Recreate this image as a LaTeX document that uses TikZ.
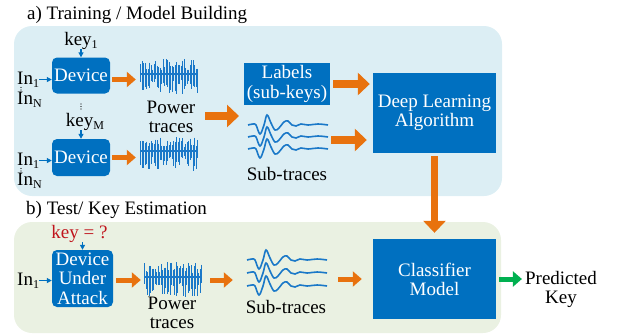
\documentclass[tikz,border=0pt]{standalone}
\usepackage{fontspec}
\setmainfont{Liberation Serif}
\usetikzlibrary{arrows.meta}
\definecolor{boxblue}{HTML}{0070C0}
\definecolor{waveblue}{HTML}{1A78C8}
\definecolor{topbg}{HTML}{DCEEF4}
\definecolor{botbg}{HTML}{EAF1E2}
\definecolor{org}{HTML}{E8720E}
\definecolor{grn}{HTML}{00B050}
\definecolor{keyred}{HTML}{C0141C}
\newcommand\mysub[1]{\raisebox{-3.5pt}{\fontsize{12}{12}\selectfont #1}}
\newcommand\ptrace[4]{% name, cx, cy, seed
  \node[inner sep=0pt, minimum width=58pt, minimum height=36pt] (#1) at (#2,#3+3) {};
  \pgfmathsetseed{#4}
  \begin{scope}[shift={(#2,#3)}]
    \draw[waveblue, line width=2pt] (-29,0) -- (29,0);
    \foreach \i in {0,...,38}{
      \pgfmathsetmacro\xx{-28.5+1.5*\i}
      \pgfmathsetmacro\up{4+11*rnd}
      \pgfmathsetmacro\dn{5+15*rnd}
      \draw[waveblue, line width=0.8pt] (\xx,-\up) -- (\xx,\dn);
    }
  \end{scope}}
\newcommand\strace[4]{%
  \node[inner sep=0pt, minimum width=80pt, minimum height=42pt] (#1) at (#2+40,#3+#4) {};
  \foreach \k in {0,1,2}{
    \draw[waveblue, line width=1.6pt, shift={(#2,#3+\k*#4)}] plot[smooth, tension=0.6] coordinates
      {(0,0) (5,-1) (8,0) (12,9) (16,0) (19,-10) (23,-2) (27,5) (31,3) (36,-3) (40,-4) (44,0) (48,1) (53,-1) (60,0) (70,-1) (80,0)};
  }}
\begin{document}
\begin{tikzpicture}[x=1pt, y=-1pt, font=\rmfamily\fontsize{19}{18}\selectfont,
  devbox/.style={fill=boxblue, rounded corners=5pt, text=white, align=center, inner sep=0pt},
  bluebox/.style={fill=boxblue, text=white, align=center, inner sep=0pt},
  lbl/.style={align=center, inner sep=0pt},
  karrow/.style={draw=boxblue, line width=1.2pt, -{Triangle[length=5pt,width=5pt]}},
  oarr/.style={draw=org, line width=5pt, -{Triangle[length=9pt,width=15pt]}},
  oarrbig/.style={draw=org, line width=7.5pt, -{Triangle[length=12pt,width=22pt]}},
  garr/.style={draw=grn, line width=5pt, -{Triangle[length=9pt,width=15pt]}},
  dots/.style={fill=black}]
\useasboundingbox (0,0) rectangle (618,335);
% panels
\fill[topbg, rounded corners=18pt] (14,26) rectangle (502,196);
\fill[botbg, rounded corners=18pt] (14,222) rectangle (501,333);
% titles
\node[anchor=base west, inner sep=0pt] (ta) at (27,19) {a) Training / Model Building};
\node[anchor=base west, inner sep=0pt] (tb) at (26,214) {b) Test/ Key Estimation};
% devices (training)
\node[devbox, minimum width=58pt, minimum height=36pt, font=\rmfamily\fontsize{19}{18}\selectfont] (dev1) at (81,75.5) {Device};
\node[devbox, minimum width=58pt, minimum height=37pt, font=\rmfamily\fontsize{19}{18}\selectfont] (dev2) at (81,157.5) {Device};
\node[anchor=base, inner sep=0pt] (k1) at (81,45) {key\mysub{1}};
\node[anchor=base, inner sep=0pt] (kM) at (85,126) {key\mysub{M}};
\draw[karrow] (dev1.north |- k1.south) -- (dev1.north);
\draw[karrow] (dev2.north |- kM.south) -- (dev2.north);
\node[anchor=base west, inner sep=0pt] (in1a) at (17,84) {In\mysub{1}};
\node[anchor=base west, inner sep=0pt] (inNa) at (17,104) {In\mysub{N}};
\node[anchor=base west, inner sep=0pt] (in1b) at (17,165) {In\mysub{1}};
\node[anchor=base west, inner sep=0pt] (inNb) at (17,185) {In\mysub{N}};
\draw[karrow] (in1a.east) -- (in1a.east -| dev1.west);
\draw[karrow] (in1b.east) -- (in1b.east -| dev2.west);
\foreach \yy in {87.5,90,92.5} \fill[dots] (21,\yy) circle (0.6pt);
\foreach \yy in {168.5,171,173.5} \fill[dots] (21,\yy) circle (0.6pt);
\foreach \yy in {104,106.5,109} \fill[dots] (81,\yy) circle (0.6pt);
% power traces (training)
\ptrace{pt1}{169}{74}{41}
\ptrace{pt2}{169}{151}{97}
\node[lbl, font=\rmfamily\fontsize{19}{19}\selectfont] (pw1) at (171,117) {Power\\traces};
\draw[oarr, shorten <=2pt, shorten >=4pt] ([yshift=-4pt]dev1.east) -- ([yshift=-4pt]dev1.east -| pt1.west);
\draw[oarr, shorten <=2pt, shorten >=4pt] (dev2.east) -- (dev2.east -| pt2.west);
\coordinate (bigS) at (205,116);
\coordinate (bigE) at (239,116);
\draw[oarrbig] (bigS) -- (bigE);
% labels and subtraces
\node[bluebox, minimum width=86pt, minimum height=42pt, font=\rmfamily\fontsize{19}{20}\selectfont] (lab) at (287,84) {Labels\\(sub-keys)};
\strace{st1}{248}{125}{12}
\node[anchor=base, inner sep=0pt] (sub1) at (287,180) {Sub-traces};
% deep learning
\node[bluebox, minimum width=123pt, minimum height=80pt, font=\rmfamily\fontsize{19}{19}\selectfont] (dl) at (434.5,113) {Deep Learning\\Algorithm};
\draw[oarrbig, shorten <=3pt, shorten >=3pt] (lab.east) -- (lab.east -| dl.west);
\draw[oarrbig, shorten <=3pt, shorten >=6pt] ([yshift=-3pt]st1.east) -- ([yshift=-3pt]st1.east -| dl.west);
% classifier
\node[bluebox, minimum width=123pt, minimum height=80pt, font=\rmfamily\fontsize{19}{19}\selectfont] (cls) at (434.5,279) {Classifier\\Model};
\draw[oarrbig, shorten <=3pt, shorten >=6pt] (dl.south) -- (cls.north);
% test
\node[devbox, minimum width=61pt, minimum height=57pt, font=\rmfamily\fontsize{19}{19.5}\selectfont] (dua) at (82.5,278.5) {Device\\Under\\Attack};
\node[anchor=base, inner sep=0pt, text=keyred] (kq) at (79.5,238) {key = ?};
\draw[karrow] (dua.north |- kq.south) -- (dua.north);
\node[anchor=base west, inner sep=0pt] (in1c) at (17,285) {In\mysub{1}};
\draw[karrow] (in1c.east) -- (in1c.east -| dua.west);
\ptrace{pt3}{173}{277}{7}
\node[lbl, font=\rmfamily\fontsize{19}{19}\selectfont] (pw3) at (172,313) {Power\\traces};
\strace{st2}{247}{260}{13}
\node[anchor=base, inner sep=0pt] (sub2) at (286,313) {Sub-traces};
\draw[oarr, shorten <=3pt, shorten >=3pt] (dua.east |- pt3.west) -- (pt3.west);
\draw[oarr, shorten <=8pt, shorten >=14pt] (pt3.east) -- (pt3.east -| st2.west);
\draw[oarr, shorten <=11pt, shorten >=11pt] (st2.east |- cls.west) -- (cls.west);
\node[lbl, font=\rmfamily\fontsize{19}{19}\selectfont] (pred) at (561,289) {Predicted\\Key};
\draw[garr, shorten <=3pt, shorten >=3pt] (cls.east) -- (cls.east -| pred.west);
\end{tikzpicture}
\end{document}
